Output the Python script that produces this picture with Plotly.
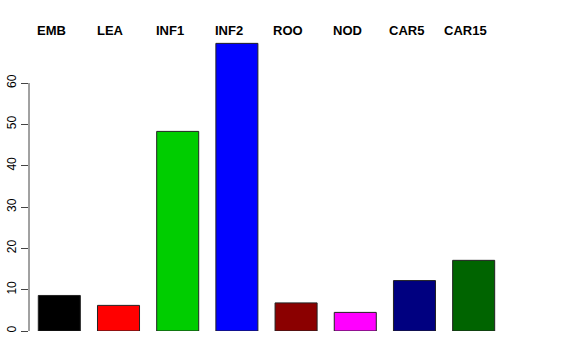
import plotly.graph_objects as go

categories = ["EMB", "LEA", "INF1", "INF2", "ROO", "NOD", "CAR5", "CAR15"]
values = [8.6, 6.2, 48.3, 69.6, 6.8, 4.5, 12.2, 17.1]
colors = ["#000000", "#FF0000", "#00CD00", "#0000FF", "#8B0000", "#FF00FF", "#000080", "#006400"]
y_ticks = [0, 10, 20, 30, 40, 50, 60]

fig = go.Figure()
fig.add_trace(go.Bar(
    x=categories, y=values,
    marker=dict(color=colors, line=dict(color="#222222", width=1)),
    width=0.71,
    showlegend=False,
))

for c in categories:
    fig.add_annotation(
        x=c, y=1.027, xref="x", yref="paper", text="<b>%s</b>" % c,
        showarrow=False, xshift=-8, yanchor="middle",
        font=dict(family="Liberation Sans, Arial, sans-serif", size=13, color="black"),
    )

fig.add_shape(type="line", xref="paper", yref="y", x0=0, x1=0,
              y0=y_ticks[0], y1=y_ticks[-1], line=dict(color="#444444", width=1))

fig.update_layout(
    width=576, height=360,
    margin=dict(l=29, r=68, t=38, b=29),
    plot_bgcolor="white", paper_bgcolor="white",
    font=dict(family="Liberation Sans, Arial, sans-serif", size=12, color="black"),
    xaxis=dict(range=[-0.512, 7.58], showticklabels=False, ticks="", showgrid=False,
               zeroline=False, showline=False, automargin=False),
    yaxis=dict(range=[0, 70.9], tickvals=y_ticks, ticks="outside", ticklen=7,
               tickcolor="#444444", tickangle=-90, showgrid=False, zeroline=False,
               showline=False, tickfont=dict(size=12), automargin=False),
)

fig.write_html("out.html")
